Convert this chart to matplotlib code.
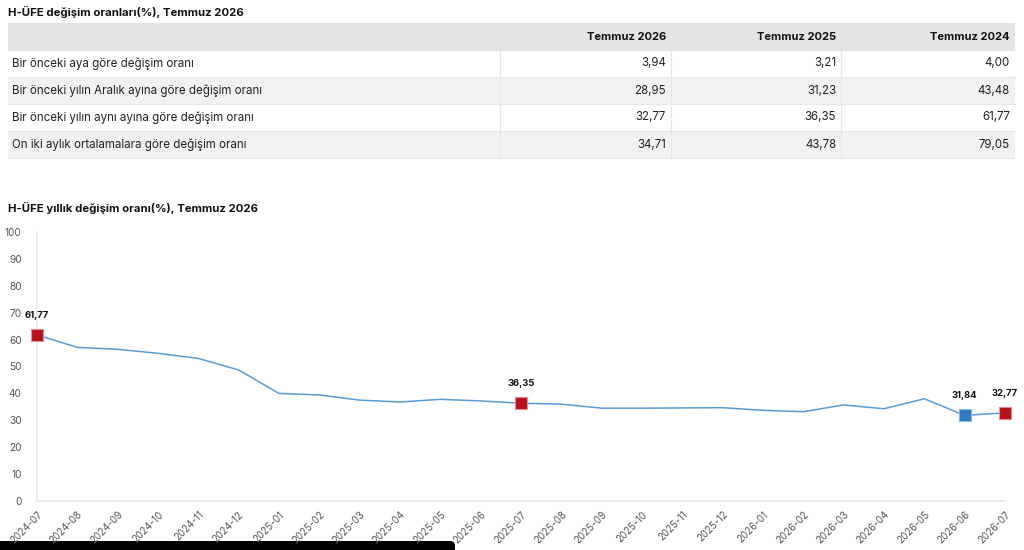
import matplotlib
matplotlib.use("Agg")
from matplotlib import pyplot as plt
from matplotlib.patches import Rectangle, FancyBboxPatch
import numpy as np

plt.rcParams["font.family"] = ["Inter", "DejaVu Sans"]

# table data
table_title = "H-ÜFE değişim oranları(%), Temmuz 2026"
col_headers = ["Temmuz 2026", "Temmuz 2025", "Temmuz 2024"]
row_labels = [
    "Bir önceki aya göre değişim oranı",
    "Bir önceki yılın Aralık ayına göre değişim oranı",
    "Bir önceki yılın aynı ayına göre değişim oranı",
    "On iki aylık ortalamalara göre değişim oranı",
]
temmuz_2026 = ["3,94", "28,95", "32,77", "34,71"]
temmuz_2025 = ["3,21", "31,23", "36,35", "43,78"]
temmuz_2024 = ["4,00", "43,48", "61,77", "79,05"]

# line chart data
chart_title = "H-ÜFE yıllık değişim oranı(%), Temmuz 2026"
months = ["2024-07", "2024-08", "2024-09", "2024-10", "2024-11", "2024-12",
          "2025-01", "2025-02", "2025-03", "2025-04", "2025-05", "2025-06",
          "2025-07", "2025-08", "2025-09", "2025-10", "2025-11", "2025-12",
          "2026-01", "2026-02", "2026-03", "2026-04", "2026-05", "2026-06",
          "2026-07"]
yearly = [61.77, 57.1, 56.4, 54.9, 53.0, 48.7,
          40.0, 39.4, 37.5, 36.8, 37.8, 37.2,
          36.35, 36.0, 34.5, 34.5, 34.6, 34.7,
          33.7, 33.2, 35.7, 34.3, 38.0, 31.84,
          32.77]
red_points = ["2024-07", "2025-07", "2026-07"]
blue_points = ["2026-06"]

W, H = 1024, 550
fig = plt.figure(figsize=(W / 100, H / 100), dpi=100)

# overlay in pixel coordinates for table and titles
ov = fig.add_axes([0, 0, 1, 1])
ov.set_xlim(0, W)
ov.set_ylim(H, 0)
ov.axis("off")

ov.text(8, 12, table_title, fontsize=8.2, fontweight="bold", va="center", color="#111")

row_h = 27
top = 23
left, right = 8, 1015
col_edges = [500, 671, 841, right]
ov.add_patch(Rectangle((left, top), right - left, row_h, facecolor="#e4e4e4", edgecolor="none"))
for j, h in enumerate(col_headers):
    ov.text(col_edges[j + 1] - 5, top + row_h / 2, h, fontsize=8, fontweight="bold",
            ha="right", va="center", color="#111")
cols = [temmuz_2026, temmuz_2025, temmuz_2024]
for i, lab in enumerate(row_labels):
    y0 = top + row_h * (i + 1)
    fc = "#ffffff" if i % 2 == 0 else "#f1f1f1"
    ov.add_patch(Rectangle((left, y0), right - left, row_h, facecolor=fc, edgecolor="none"))
    ov.plot([left, right], [y0, y0], color="#e6e6e6", lw=0.8)
    ov.text(12, y0 + row_h / 2, lab, fontsize=8.3, va="center", color="#222")
    for j, c in enumerate(cols):
        ov.text(col_edges[j + 1] - 5, y0 + row_h / 2, c[i], fontsize=8.3,
                ha="right", va="center", color="#222")
bottom_tab = top + row_h * 5
ov.plot([left, right], [bottom_tab, bottom_tab], color="#e6e6e6", lw=0.8)
for x in col_edges[:-1]:
    ov.plot([x, x], [top, bottom_tab], color="#e6e6e6", lw=0.8)

ov.text(8, 208, chart_title, fontsize=8.2, fontweight="bold", va="center", color="#111")

# tooltip box at bottom edge
ov.add_patch(FancyBboxPatch((-10, 541), 465, 20, boxstyle="round,pad=0,rounding_size=5",
                            facecolor="#000000", edgecolor="none"))

# chart axes: x from 37 to 1005 px, y from 232 (100) to 501 (0)
ax = fig.add_axes([37 / W, (H - 501) / H, (1005 - 37) / W, (501 - 232) / H])
ax.set_zorder(2)
ax.patch.set_alpha(0)
x = np.arange(len(months))
ax.plot(x, yearly, color="#5b9bd5", lw=1.1, zorder=2)
for m in red_points + blue_points:
    i = months.index(m)
    fc = "#b5121b" if m in red_points else "#2e7bbf"
    ec = "#e88a8f" if m in red_points else "#8bb8e0"
    ax.plot(x[i], yearly[i], marker="s", ms=9, mfc=fc, mec=ec, mew=0.8, zorder=3)
    ax.annotate(f"{yearly[i]:.2f}".replace(".", ","), (x[i], yearly[i]),
                xytext=(0, 11), textcoords="offset points", ha="center", va="bottom",
                fontsize=6.8, fontweight="bold", color="#111", zorder=4)

ax.set_xlim(0, len(months) - 1)
ax.set_ylim(0, 100)
ax.set_yticks(np.arange(0, 101, 10))
ax.set_xticks(x)
ax.set_xticklabels(months, rotation=45, ha="right", rotation_mode="anchor")
ax.tick_params(axis="both", length=0, colors="#555")
ax.tick_params(axis="y", pad=11, labelsize=7.3)
ax.tick_params(axis="x", pad=6, labelsize=7)
for s in ["top", "right"]:
    ax.spines[s].set_visible(False)
ax.spines["left"].set_color("#e8e8f0")
ax.spines["bottom"].set_color("#e8e8e8")
ax.spines["left"].set_linewidth(1.2)
ax.spines["bottom"].set_linewidth(1.2)
for lab in ax.get_xticklabels() + ax.get_yticklabels():
    lab.set_clip_on(False)
for ln in ax.lines:
    ln.set_clip_on(False)

fig.savefig("out.png", dpi=100)
